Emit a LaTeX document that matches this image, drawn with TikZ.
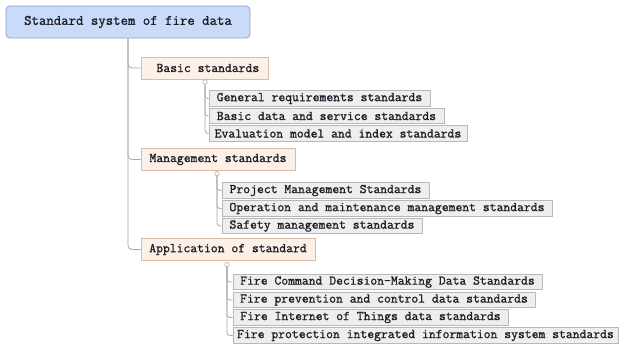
\documentclass[tikz,border=0pt]{standalone}
\usepackage{fontspec}
\newfontface\treefont{Latin Modern Mono}[FakeBold=1.2]
\definecolor{rootfill}{HTML}{C9DBF8}
\definecolor{rootdraw}{HTML}{86A3D6}
\definecolor{midfill}{HTML}{FDF1E7}
\definecolor{middraw}{HTML}{D9BBA6}
\definecolor{leaffill}{HTML}{EEEEEE}
\definecolor{leafdraw}{HTML}{B8B8B8}
\definecolor{linkcol}{HTML}{A8A8A8}
\definecolor{txt}{HTML}{1E1E28}
\tikzset{
  x=1pt, y=1pt,
  every node/.style={text=txt, inner sep=0pt},
  rootbox/.style={draw=rootdraw, fill=rootfill, rounded corners=4pt, line width=0.8pt,
    minimum height=32pt, font=\treefont\fontsize{14.4}{16}\selectfont},
  midbox/.style={draw=middraw, fill=midfill, line width=0.6pt, minimum height=22pt,
    font=\treefont\fontsize{13.3}{15}\selectfont},
  leafbox/.style={draw=leafdraw, fill=leaffill, line width=0.7pt, minimum height=15.5pt,
    font=\treefont\fontsize{13.3}{15}\selectfont},
  toggle/.style={circle, draw=linkcol, fill=white, line width=0.5pt, minimum size=4.5pt},
  link/.style={draw=linkcol, line width=0.8pt, rounded corners=4pt},
}
\begin{document}
\begin{tikzpicture}
\useasboundingbox (0,0) rectangle (619,-346);
% root
\node[rootbox, minimum width=244pt] (root) at (128,-22) {Standard system of fire data};
% second level
\node[midbox, minimum width=127pt] (basic) at (204.5,-68) {\ Basic standards};
\node[midbox, minimum width=154pt] (mgmt) at (218,-159.5) {Management standards};
\node[midbox, minimum width=174pt] (app) at (228,-249.5) {Application of standard};
% trunk links
\draw[link] (root.south) |- (basic.west);
\draw[link] (root.south) |- (mgmt.west);
\draw[link] (root.south) |- (app.west);
% leaves: basic
\node[leafbox, minimum width=221pt] (b1) at (319.5,-98.5) {General requirements standards};
\node[leafbox, minimum width=235pt] (b2) at (326.5,-116) {Basic data and service standards};
\node[leafbox, minimum width=258pt] (b3) at (338,-133.5) {Evaluation model and index standards};
% leaves: management
\node[leafbox, minimum width=207pt] (m1) at (325.5,-190.5) {Project Management Standards};
\node[leafbox, minimum width=330pt] (m2) at (387,-208.5) {Operation and maintenance management standards};
\node[leafbox, minimum width=200pt] (m3) at (322,-226) {Safety management standards};
% leaves: application
\node[leafbox, minimum width=309pt] (a1) at (387.5,-282) {Fire Command Decision-Making Data Standards};
\node[leafbox, minimum width=302pt] (a2) at (384,-300) {Fire prevention and control data standards};
\node[leafbox, minimum width=275pt] (a3) at (370.5,-317.5) {Fire Internet of Things data standards};
\node[leafbox, minimum width=385pt] (a4) at (425.5,-335.5) {Fire protection integrated information system standards};
% collapse toggles
\node[toggle] (tb) at (205,-82) {};
\node[toggle] (tm) at (217,-173.5) {};
\node[toggle] (ta) at (227,-264.5) {};
% leaf links
\foreach \l in {b1,b2,b3} \draw[link, rounded corners=3pt] (tb.south) |- (\l.west);
\foreach \l in {m1,m2,m3} \draw[link, rounded corners=3pt] (tm.south) |- (\l.west);
\foreach \l in {a1,a2,a3,a4} \draw[link, rounded corners=3pt] (ta.south) |- (\l.west);
\end{tikzpicture}
\end{document}
